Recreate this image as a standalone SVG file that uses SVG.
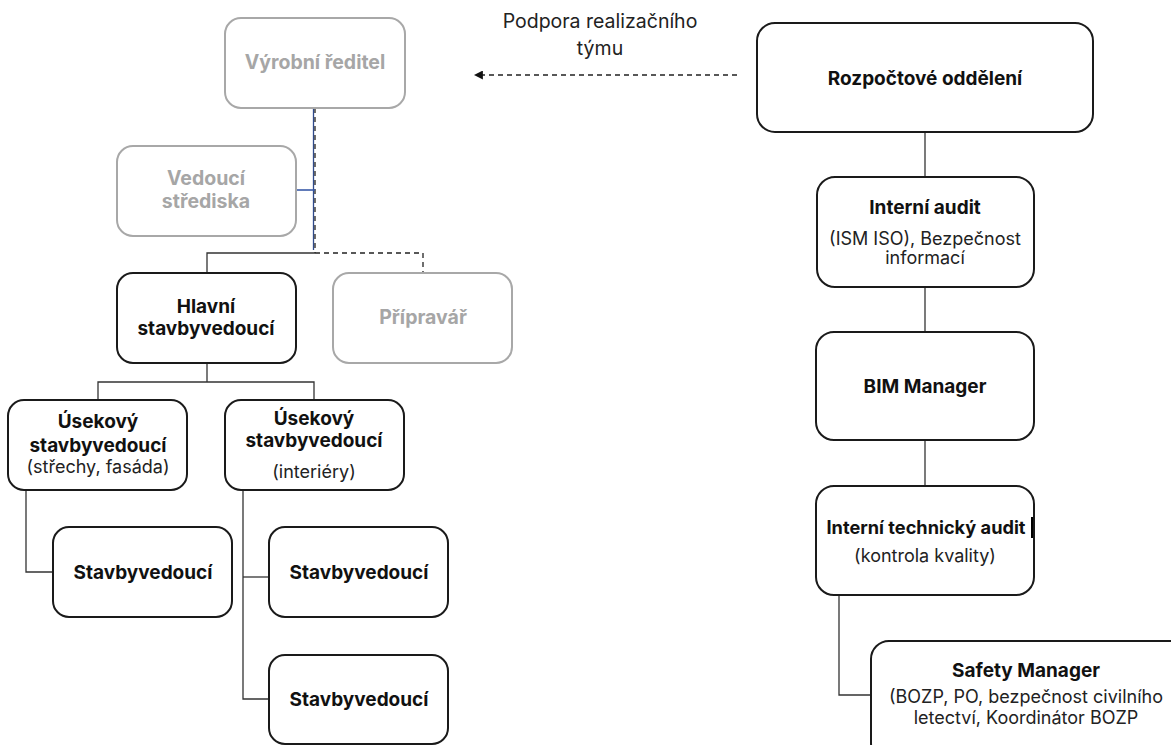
<svg xmlns="http://www.w3.org/2000/svg" width="1171" height="745" viewBox="0 0 1171 745">
<defs>
<style>
.box{fill:#fff;stroke:#1a1a1a;stroke-width:2}
.gbox{fill:#fff;stroke:#a8a8a8;stroke-width:2}
.t{font-family:Inter,"Liberation Sans",sans-serif;font-size:19px;font-weight:700;fill:#111;text-anchor:middle}
.g{font-family:Inter,"Liberation Sans",sans-serif;font-size:19.5px;font-weight:700;fill:#a6a6a6;text-anchor:middle}
.r{font-family:Inter,"Liberation Sans",sans-serif;font-size:18px;font-weight:400;fill:#222;text-anchor:middle}
.ln{fill:none;stroke:#333;stroke-width:1.3}
.dl{fill:none;stroke:#222;stroke-width:1.3;stroke-dasharray:5 4}
</style>
<marker id="ah" viewBox="0 0 10 10" refX="1" refY="5" markerWidth="9" markerHeight="9" markerUnits="userSpaceOnUse" orient="auto-start-reverse">
<path d="M0,0 L10,5 L0,10 z" fill="#111"/>
</marker>
</defs>
<g id="connectors">
<line x1="313.5" y1="108" x2="313.5" y2="250" stroke="#2f4a8a" stroke-width="1.3"/>
<line class="dl" x1="315" y1="108" x2="315" y2="253"/>
<line x1="296" y1="190" x2="315" y2="190" stroke="#3a5ba8" stroke-width="1.6"/>
<polyline class="ln" points="315,253 207,253 207,273"/>
<polyline class="dl" points="315,253 423,253 423,273"/>
<line class="ln" x1="207" y1="363" x2="207" y2="382"/>
<polyline class="ln" points="98,400 98,382 314,382 314,400"/>
<polyline class="ln" points="26,490 26,572 53,572"/>
<polyline class="ln" points="243,490 243,699 269,699"/>
<line class="ln" x1="243" y1="577" x2="269" y2="577"/>
<line class="dl" x1="737" y1="75" x2="482" y2="75" marker-end="url(#ah)"/>
<line class="ln" x1="925" y1="132" x2="925" y2="177"/>
<line class="ln" x1="925" y1="287" x2="925" y2="332"/>
<line class="ln" x1="925" y1="440" x2="925" y2="486"/>
<polyline class="ln" points="839,595 839,695 871,695"/>
</g>
<text class="r" x="600" y="28" style="font-size:19.5px">Podpora realizačního</text>
<text class="r" x="600" y="55" style="font-size:19.5px">týmu</text>
<g id="vyrobni"><rect class="gbox" x="225" y="18" width="180" height="90" rx="16"/><text class="g" x="315" y="69">Výrobní ředitel</text></g>
<g id="vedouci"><rect class="gbox" x="117" y="146" width="179" height="90" rx="16"/><text class="g" x="206" y="185">Vedoucí</text><text class="g" x="206" y="208">střediska</text></g>
<g id="hlavni"><rect class="box" x="117" y="273" width="179" height="90" rx="16"/><text class="t" x="206" y="313">Hlavní</text><text class="t" x="206" y="335">stavbyvedoucí</text></g>
<g id="pripravar"><rect class="gbox" x="333" y="273" width="179" height="90" rx="16"/><text class="g" x="423" y="324">Přípravář</text></g>
<g id="usek1"><rect class="box" x="8" y="400" width="179" height="90" rx="16"/><text class="t" x="98" y="428">Úsekový</text><text class="t" x="98" y="452">stavbyvedoucí</text><text class="r" x="98" y="473">(střechy, fasáda)</text></g>
<g id="usek2"><rect class="box" x="225" y="400" width="179" height="90" rx="16"/><text class="t" x="314" y="425">Úsekový</text><text class="t" x="314" y="447">stavbyvedoucí</text><text class="r" x="314" y="478">(interiéry)</text></g>
<g id="stav1"><rect class="box" x="53" y="527" width="179" height="90" rx="16"/><text class="t" x="143" y="579">Stavbyvedoucí</text></g>
<g id="stav2"><rect class="box" x="269" y="527" width="179" height="90" rx="16"/><text class="t" x="359" y="579">Stavbyvedoucí</text></g>
<g id="stav3"><rect class="box" x="269" y="655" width="179" height="89" rx="16"/><text class="t" x="359" y="706">Stavbyvedoucí</text></g>
<g id="rozpocet"><rect class="box" x="757" y="23" width="336" height="109" rx="18"/><text class="t" x="925" y="85">Rozpočtové oddělení</text></g>
<g id="audit"><rect class="box" x="817" y="177" width="217" height="110" rx="18"/><text class="t" x="925" y="214">Interní audit</text><text class="r" x="925" y="245">(ISM ISO), Bezpečnost</text><text class="r" x="925" y="264">informací</text></g>
<g id="bim"><rect class="box" x="816" y="332" width="218" height="108" rx="18"/><text class="t" x="925" y="393">BIM Manager</text></g>
<g id="techaudit"><rect class="box" x="816" y="486" width="218" height="109" rx="18"/><text class="t" x="926" y="534" style="font-size:18.2px">Interní technický audit</text><text class="r" x="925" y="562">(kontrola kvality)</text><rect x="1031" y="517" width="2" height="21" fill="#000"/></g>
<g id="safety"><rect class="box" x="871" y="641" width="320" height="120" rx="18"/><text class="t" x="1026" y="677">Safety Manager</text><text class="r" x="1026" y="703">(BOZP, PO, bezpečnost civilního</text><text class="r" x="1026" y="724">letectví, Koordinátor BOZP</text></g>
</svg>
